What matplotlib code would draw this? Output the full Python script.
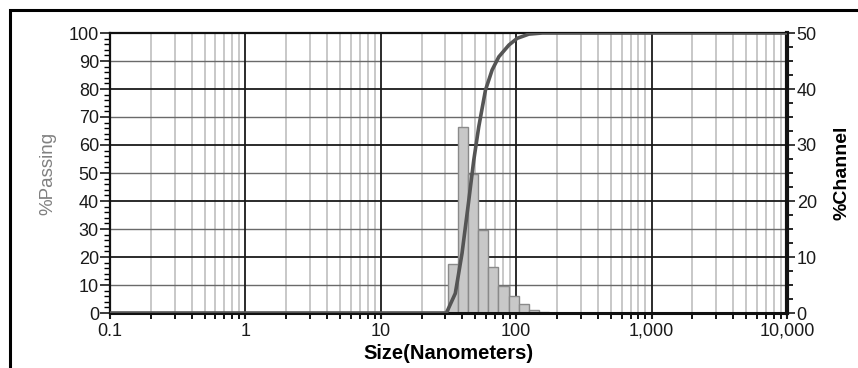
import numpy as np
import matplotlib
matplotlib.use("Agg")
import matplotlib.pyplot as plt
from matplotlib.patches import Rectangle
from matplotlib.ticker import FixedLocator, MultipleLocator, NullFormatter

# ---- data ----
channel_edges = [31.11, 37.0, 44.0, 52.33, 62.23, 74.0, 88.0, 104.7, 124.5, 148.0, 176.0]
channel_pct = [8.7, 33.2, 24.8, 14.9, 8.3, 4.8, 3.0, 1.6, 0.5, 0.2]

curve_size = [0.1, 30.5, 35.5, 39.8, 44.7, 48.6, 52.9, 59.3, 66.4, 74.4, 88.3, 101.7, 124.0, 156.0, 10000.0]
curve_passing = [0.0, 0.0, 7.0, 21.3, 40.4, 54.6, 66.5, 79.6, 86.8, 91.5, 95.7, 98.1, 99.6, 100.0, 100.0]

x_ticks = [0.1, 1, 10, 100, 1000, 10000]
x_ticklabels = ["0.1", "1", "10", "100", "1,000", "10,000"]
left_ticks = [0, 10, 20, 30, 40, 50, 60, 70, 80, 90, 100]
right_ticks = [0, 10, 20, 30, 40, 50]

plt.rcParams['font.family'] = ['Liberation Sans', 'DejaVu Sans']

W, H = 858, 368
fig = plt.figure(figsize=(W / 100, H / 100), dpi=100)
fig.patch.set_facecolor('white')

pos = [110 / W, 55 / H, 677 / W, 280 / H]
ax2 = fig.add_axes(pos)   # %Channel axis (bars + grid), drawn below
ax = fig.add_axes(pos, sharex=ax2)  # %Passing axis (curve), drawn on top
ax2.set_zorder(1)
ax.set_zorder(2)
ax.patch.set_visible(False)

ax2.set_xscale('log')
ax2.set_xlim(0.1, 10000)
ax2.set_ylim(0, 50)
ax.set_ylim(0, 100)

# grid (drawn on ax2, beneath the bars)
for dec in [0.1, 1, 10, 100, 1000]:
    for m in range(2, 10):
        ax2.axvline(dec * m, color='#c4c4c4', lw=1.3, zorder=0)
for dec in [1, 10, 100, 1000]:
    ax2.axvline(dec, color='#1a1a1a', lw=1.3, zorder=0.5)
for v in [5, 15, 25, 35, 45]:
    ax2.axhline(v, color='#6a6a6a', lw=1.0, zorder=0.4)
for v in [10, 20, 30, 40]:
    ax2.axhline(v, color='#1a1a1a', lw=1.3, zorder=0.5)

# bars
edges = np.array(channel_edges)
ax2.bar(edges[:-1], channel_pct, width=np.diff(edges), align='edge',
        color='#c8c8c8', edgecolor='#8a8a8a', linewidth=1.0, zorder=2)

# cumulative curve
ax.plot(curve_size, curve_passing, color='#555555', lw=2.6, zorder=3,
        solid_joinstyle='round', solid_capstyle='round')

FS = 13

# x axis
ax2.xaxis.set_major_locator(FixedLocator(x_ticks))
minor = [d * m for d in [0.1, 1, 10, 100, 1000] for m in range(2, 10)]
ax2.xaxis.set_minor_locator(FixedLocator(minor))
ax2.xaxis.set_minor_formatter(NullFormatter())
ax2.set_xticklabels(x_ticklabels)
ax.tick_params(axis='x', which='both', bottom=False, labelbottom=False)
ax2.tick_params(axis='x', which='major', direction='out', length=4, width=1.5,
                labelsize=FS, colors='#1a1a1a', pad=3)
ax2.tick_params(axis='x', which='minor', direction='out', length=4, width=1.3)

# left axis
ax.yaxis.set_major_locator(FixedLocator(left_ticks))
ax.yaxis.set_minor_locator(MultipleLocator(2))
ax.tick_params(axis='y', which='major', direction='out', length=7, width=1.2,
               labelsize=FS, colors='#1a1a1a', pad=1)
ax.tick_params(axis='y', which='minor', direction='out', length=4, width=1.0)
ax.set_ylabel('%Passing', color='#808080', fontsize=13.5, labelpad=9)

# right axis
ax2.yaxis.tick_right()
ax2.yaxis.set_label_position('right')
ax2.yaxis.set_major_locator(FixedLocator(right_ticks))
ax2.yaxis.set_minor_locator(MultipleLocator(2.5))
ax2.tick_params(axis='y', which='major', direction='out', length=6, width=1.2,
                labelsize=FS, colors='#1a1a1a', pad=1)
ax2.tick_params(axis='y', which='minor', direction='out', length=4, width=1.2)
ax2.set_ylabel('%Channel', fontsize=14, fontweight='bold', labelpad=12,
               family=['Liberation Sans Narrow', 'Liberation Sans', 'DejaVu Sans'])

ax2.set_xlabel('Size(Nanometers)', fontsize=14.5, fontweight='bold', labelpad=3)

# spines
for a in (ax, ax2):
    for s in a.spines.values():
        s.set_color('#111111')
ax.spines['left'].set_linewidth(1.6)
ax.spines['right'].set_visible(False)
ax.spines['bottom'].set_visible(False)
ax.spines['top'].set_visible(False)
ax2.spines['left'].set_visible(False)
ax2.spines['right'].set_linewidth(3.0)
ax2.spines['bottom'].set_linewidth(2.2)
ax2.spines['top'].set_linewidth(1.6)

# outer frame (partially cut off at the right and bottom)
fig.patches.append(Rectangle((10 / W, -0.1), 1.2, 1 - 10 / H + 0.1,
                             transform=fig.transFigure, fill=False,
                             edgecolor='black', linewidth=2.2))

fig.savefig('out.png', dpi=100)
